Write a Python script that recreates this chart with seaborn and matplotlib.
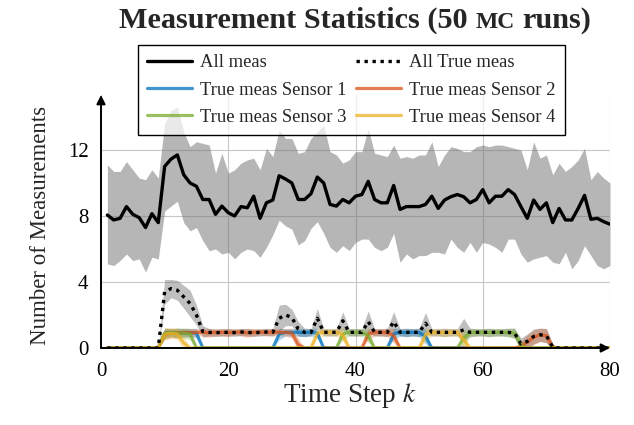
import numpy as np
import pandas as pd
import seaborn as sns
import matplotlib
matplotlib.use("Agg")
import matplotlib.pyplot as plt
from matplotlib.lines import Line2D

# ---------------- data (time steps 1..80) ----------------
steps = list(range(1, 81))

all_mean = [8.06, 7.76, 7.86, 8.57, 8.10, 7.90, 7.30, 8.14, 7.60, 11.0,
            11.45, 11.7, 10.5, 10.0, 9.80, 9.00, 9.00, 8.10, 8.60, 8.20,
            8.00, 8.57, 8.50, 9.20, 7.86, 8.80, 8.97, 10.44, 10.24, 10.0,
            9.00, 9.00, 9.35, 10.36, 10.0, 8.70, 8.60, 9.00, 8.80, 9.20,
            9.30, 10.1, 9.00, 8.80, 8.80, 9.85, 8.40, 8.57, 8.57, 8.57,
            8.70, 9.20, 8.46, 8.97, 9.17, 9.30, 9.17, 8.80, 9.00, 9.60,
            8.80, 9.20, 9.20, 9.60, 9.30, 8.57, 7.86, 8.97, 8.40, 8.80,
            7.60, 8.46, 7.76, 7.76, 8.46, 9.25, 7.80, 7.86, 7.66, 7.50]

all_upper = [11.1, 10.7, 10.7, 11.3, 10.8, 10.3, 10.2, 10.8, 10.3, 13.6,
             14.4, 14.6, 13.1, 12.2, 12.5, 12.4, 12.3, 10.6, 11.8, 10.6,
             10.8, 11.2, 11.4, 11.5, 10.8, 12.1, 11.6, 13.2, 12.7, 12.7,
             11.8, 11.9, 12.7, 13.1, 13.5, 11.9, 11.7, 11.2, 11.4, 11.9,
             11.9, 13.3, 11.8, 11.7, 11.6, 12.3, 11.5, 11.6, 11.5, 11.7,
             11.7, 12.5, 11.0, 11.7, 12.2, 12.1, 11.9, 11.9, 12.2, 12.3,
             12.2, 12.3, 12.3, 12.2, 12.1, 12.0, 10.8, 12.5, 11.5, 11.7,
             10.5, 11.2, 10.7, 11.0, 11.4, 12.1, 10.2, 10.7, 10.3, 10.0]

all_lower = [5.1, 5.0, 5.3, 5.7, 5.3, 5.4, 4.6, 5.5, 5.4, 8.3,
             8.6, 8.9, 7.6, 7.1, 7.3, 6.5, 5.9, 6.0, 5.7, 5.8,
             5.4, 5.8, 6.0, 5.9, 5.5, 6.1, 6.85, 7.75, 7.4, 7.2,
             6.25, 6.5, 7.25, 7.66, 6.95, 6.1, 5.8, 6.2, 5.9, 6.4,
             6.6, 6.6, 6.1, 5.9, 6.1, 6.95, 5.2, 5.7, 5.4, 5.6,
             5.6, 5.8, 5.8, 5.7, 6.6, 6.1, 5.8, 6.4, 5.8, 6.4,
             6.3, 6.1, 5.8, 6.6, 6.6, 5.7, 5.2, 5.4, 5.5, 5.6,
             5.2, 5.1, 5.8, 4.8, 5.3, 6.2, 5.6, 5.0, 4.8, 5.0]

true_mean = [0, 0, 0, 0, 0, 0, 0, 0, 0, 3.4,
             3.6, 3.5, 3.1, 2.7, 2.0, 1.0, 0.95, 0.92, 0.95, 0.95,
             0.93, 0.97, 0.95, 0.92, 0.95, 0.97, 0.95, 1.8, 2.0, 1.85,
             1.15, 0.95, 0.95, 1.8, 0.95, 0.95, 0.95, 1.65, 0.95, 0.95,
             0.95, 1.6, 0.95, 0.95, 0.95, 1.6, 0.95, 0.95, 0.95, 0.95,
             1.5, 0.95, 0.95, 0.95, 0.95, 0.95, 1.1, 0.95, 0.95, 0.95,
             0.95, 0.95, 0.95, 0.95, 0.9, 0.25, 0.4, 0.7, 0.8, 0.75,
             0.05, 0, 0, 0, 0, 0, 0, 0, 0, 0]

true_spread = [0, 0, 0, 0, 0, 0, 0, 0, 0, 0.75,
               0.55, 0.6, 0.7, 0.8, 0.6, 0.35, 0.22, 0.22, 0.22, 0.22,
               0.22, 0.22, 0.22, 0.22, 0.22, 0.22, 0.22, 0.8, 0.65, 0.5,
               0.45, 0.25, 0.22, 0.6, 0.22, 0.22, 0.22, 0.55, 0.22, 0.22,
               0.22, 0.65, 0.22, 0.22, 0.25, 0.6, 0.22, 0.25, 0.22, 0.25,
               0.65, 0.22, 0.22, 0.25, 0.22, 0.22, 0.7, 0.25, 0.22, 0.22,
               0.25, 0.22, 0.22, 0.25, 0.3, 0.35, 0.45, 0.45, 0.4, 0.43,
               0.2, 0, 0, 0, 0, 0, 0, 0, 0, 0]

s1_mean = [0, 0, 0, 0, 0, 0, 0, 0, 0, 0.9,
           0.95, 0.9, 0.92, 0.93, 0.9, 0, 0, 0, 0, 0,
           0, 0, 0, 0, 0, 0, 0, 0.85, 0.95, 0.95,
           0.95, 0.93, 0.95, 0.9, 0, 0, 0, 0, 0, 0,
           0, 0, 0, 0, 0, 0.85, 0.95, 0.93, 0.95, 0.93,
           0.7, 0, 0, 0, 0, 0, 0, 0, 0, 0,
           0, 0, 0, 0, 0, 0, 0, 0, 0, 0,
           0, 0, 0, 0, 0, 0, 0, 0, 0, 0]
s1_spread = [0, 0, 0, 0, 0, 0, 0, 0, 0, 0.3,
             0.22, 0.3, 0.27, 0.25, 0.3, 0, 0, 0, 0, 0,
             0, 0, 0, 0, 0, 0, 0, 0.35, 0.22, 0.22,
             0.22, 0.25, 0.22, 0.3, 0, 0, 0, 0, 0, 0,
             0, 0, 0, 0, 0, 0.35, 0.22, 0.25, 0.22, 0.25,
             0.45, 0, 0, 0, 0, 0, 0, 0, 0, 0,
             0, 0, 0, 0, 0, 0, 0, 0, 0, 0,
             0, 0, 0, 0, 0, 0, 0, 0, 0, 0]

s2_mean = [0, 0, 0, 0, 0, 0, 0, 0, 0, 0.85,
           0.9, 0.92, 0.95, 0.93, 0.95, 0.95, 0.92, 0.95, 0.95, 0.93,
           0.97, 0.95, 0.92, 0.95, 0.97, 0.95, 0.95, 0.95, 0.95, 0.9,
           0.2, 0, 0, 0, 0, 0, 0, 0, 0, 0,
           0, 0.85, 0.95, 0.95, 0.93, 0.75, 0, 0, 0, 0,
           0, 0, 0, 0, 0, 0, 0, 0, 0, 0,
           0, 0, 0, 0, 0, 0.1, 0.35, 0.65, 0.8, 0.75,
           0.05, 0, 0, 0, 0, 0, 0, 0, 0, 0]
s2_spread = [0, 0, 0, 0, 0, 0, 0, 0, 0, 0.35,
             0.3, 0.27, 0.22, 0.25, 0.22, 0.22, 0.27, 0.22, 0.22, 0.25,
             0.17, 0.22, 0.27, 0.22, 0.17, 0.22, 0.22, 0.22, 0.22, 0.3,
             0.4, 0, 0, 0, 0, 0, 0, 0, 0, 0,
             0, 0.35, 0.22, 0.22, 0.25, 0.43, 0, 0, 0, 0,
             0, 0, 0, 0, 0, 0, 0, 0, 0, 0,
             0, 0, 0, 0, 0, 0.3, 0.45, 0.45, 0.4, 0.43,
             0.2, 0, 0, 0, 0, 0, 0, 0, 0, 0]

s3_mean = [0, 0, 0, 0, 0, 0, 0, 0, 0, 0.9,
           0.93, 0.9, 0.9, 0.85, 0, 0, 0, 0, 0, 0,
           0, 0, 0, 0, 0, 0, 0, 0, 0, 0,
           0, 0, 0, 0, 0, 0, 0, 0.85, 0.95, 0.95,
           0.95, 0.75, 0, 0, 0, 0, 0, 0, 0, 0,
           0, 0, 0, 0, 0, 0, 0.6, 0.93, 0.95, 0.95,
           0.93, 0.95, 0.95, 0.93, 0.9, 0.15, 0, 0, 0, 0,
           0, 0, 0, 0, 0, 0, 0, 0, 0, 0]
s3_spread = [0, 0, 0, 0, 0, 0, 0, 0, 0, 0.3,
             0.25, 0.3, 0.3, 0.35, 0, 0, 0, 0, 0, 0,
             0, 0, 0, 0, 0, 0, 0, 0, 0, 0,
             0, 0, 0, 0, 0, 0, 0, 0.35, 0.22, 0.22,
             0.22, 0.43, 0, 0, 0, 0, 0, 0, 0, 0,
             0, 0, 0, 0, 0, 0, 0.49, 0.25, 0.22, 0.22,
             0.25, 0.22, 0.22, 0.25, 0.3, 0.35, 0, 0, 0, 0,
             0, 0, 0, 0, 0, 0, 0, 0, 0, 0]

s4_mean = [0, 0, 0, 0, 0, 0, 0, 0, 0, 0.85,
           0.9, 0.85, 0.3, 0, 0, 0, 0, 0, 0, 0,
           0, 0, 0, 0, 0, 0, 0, 0, 0, 0,
           0, 0, 0, 0.9, 0.95, 0.95, 0.95, 0.8, 0, 0,
           0, 0, 0, 0, 0, 0, 0, 0, 0, 0,
           0.8, 0.95, 0.95, 0.93, 0.95, 0.95, 0.5, 0, 0, 0,
           0, 0, 0, 0, 0, 0, 0, 0, 0, 0,
           0, 0, 0, 0, 0, 0, 0, 0, 0, 0]
s4_spread = [0, 0, 0, 0, 0, 0, 0, 0, 0, 0.35,
             0.3, 0.35, 0.45, 0, 0, 0, 0, 0, 0, 0,
             0, 0, 0, 0, 0, 0, 0, 0, 0, 0,
             0, 0, 0, 0.3, 0.22, 0.22, 0.22, 0.4, 0, 0,
             0, 0, 0, 0, 0, 0, 0, 0, 0, 0,
             0.4, 0.22, 0.22, 0.25, 0.22, 0.22, 0.5, 0, 0, 0,
             0, 0, 0, 0, 0, 0, 0, 0, 0, 0,
             0, 0, 0, 0, 0, 0, 0, 0, 0, 0]

sensor_names = ["True meas Sensor 1", "True meas Sensor 2",
                "True meas Sensor 3", "True meas Sensor 4"]
sensor_means = [s1_mean, s2_mean, s3_mean, s4_mean]
sensor_spreads = [s1_spread, s2_spread, s3_spread, s4_spread]
sensor_colors = [(0.0, 0.447, 0.741), (0.85, 0.325, 0.098),
                 (0.466, 0.674, 0.188), (0.929, 0.694, 0.125)]

x_ticks = [0, 20, 40, 60, 80]
y_ticks = [0, 4, 8, 12]

# ---------------- style ----------------
sns.set_theme(style="white")
plt.rcParams["font.family"] = ["Liberation Serif", "DejaVu Serif"]
plt.rcParams["mathtext.fontset"] = "stix"

W, H = 634, 425
fig = plt.figure(figsize=(W / 100, H / 100), dpi=100)
ax = fig.add_axes([101 / W, 77 / H, 509 / W, 253 / H])

steps_arr = np.array(steps)

# bands
ax.fill_between(steps_arr, all_lower, all_upper, color=(0.45, 0.45, 0.45),
                alpha=0.52, lw=0, zorder=2)
tm = np.array(true_mean)
ts = np.array(true_spread)
ax.fill_between(steps_arr, tm - ts, tm + ts, color=(0.45, 0.45, 0.45),
                alpha=0.45, lw=0, zorder=2)

# sensors
for name, m, sp, c in zip(sensor_names, sensor_means, sensor_spreads, sensor_colors):
    m = np.array(m)
    sp = np.array(sp)
    ax.fill_between(steps_arr, m - sp, m + sp, color=c, alpha=0.3, lw=0, zorder=3)
    df = pd.DataFrame({"step": steps, "val": m})
    sns.lineplot(data=df, x="step", y="val", ax=ax, color=c, alpha=0.75,
                 lw=2.3, zorder=4, legend=False)

# all true meas (dotted)
df_true = pd.DataFrame({"step": steps, "val": true_mean})
sns.lineplot(data=df_true, x="step", y="val", ax=ax, color="black", lw=2.4,
             linestyle=(0, (1, 1.4)), zorder=5, legend=False)

# all meas
df_all = pd.DataFrame({"step": steps, "val": all_mean})
sns.lineplot(data=df_all, x="step", y="val", ax=ax, color="black", lw=2.4,
             zorder=6, legend=False)

ax.set_xlim(0, 80)
ax.set_ylim(0, 253 / 16.5)
ax.set_xticks(x_ticks)
ax.set_yticks(y_ticks)
ax.set_xticklabels([str(t) for t in x_ticks], fontsize=15)
ax.set_yticklabels([str(t) for t in y_ticks], fontsize=15)
ax.set_xlabel("")
ax.set_ylabel("")
ax.grid(True, color=(0.78, 0.78, 0.78), lw=0.8, zorder=0)
ax.set_axisbelow(True)
ax.tick_params(axis="x", direction="out", length=3, width=0.8,
               color=(0.45, 0.45, 0.45), pad=7, labelcolor="black")
ax.tick_params(axis="y", direction="out", length=3, width=0.8,
               color=(0.45, 0.45, 0.45), pad=6, labelcolor="black")
for s in ax.spines.values():
    s.set_visible(False)

# axis arrows
arrow = dict(arrowstyle="-|>", lw=1.4, color="black", mutation_scale=13,
             shrinkA=0, shrinkB=0)
ax.annotate("", xy=(1.0, 0), xytext=(0, 0), xycoords="axes fraction",
            textcoords="axes fraction", arrowprops=arrow, annotation_clip=False,
            zorder=10)
ax.annotate("", xy=(0, 1.0), xytext=(0, 0), xycoords="axes fraction",
            textcoords="axes fraction", arrowprops=arrow, annotation_clip=False,
            zorder=10)

# labels
fig.text(350 / W, 1 - 395 / H, r"Time Step $k$", fontsize=19.5, ha="center",
         va="center")
fig.text(41 / W, 1 - 225 / H, "Number of Measurements", fontsize=16.5,
         ha="center", va="center", rotation=90)

# legend
handles = [
    Line2D([], [], color="black", lw=2.4),
    Line2D([], [], color=sensor_colors[0], lw=2.3, alpha=0.75),
    Line2D([], [], color=sensor_colors[2], lw=2.3, alpha=0.75),
    Line2D([], [], color="black", lw=2.4, linestyle=(0, (1, 1.4))),
    Line2D([], [], color=sensor_colors[1], lw=2.3, alpha=0.75),
    Line2D([], [], color=sensor_colors[3], lw=2.3, alpha=0.75),
]
labels = ["All meas", sensor_names[0], sensor_names[2],
          "All True meas", sensor_names[1], sensor_names[3]]
leg = fig.legend(handles, labels, ncol=2, loc="upper center",
                 bbox_to_anchor=(351.5 / W, 1 - 45 / H), fontsize=13.4,
                 frameon=True, fancybox=False, handlelength=2.4,
                 handletextpad=0.45, columnspacing=0.5, labelspacing=0.55,
                 borderpad=0.5, borderaxespad=0)
fr = leg.get_frame()
fr.set_alpha(None)
fr.set_facecolor((1, 1, 1, 0.7))
fr.set_edgecolor("black")
fr.set_linewidth(1.0)
leg.set_zorder(20)

# title with small caps "MC"
fig.canvas.draw()
r = fig.canvas.get_renderer()
ybase = 1 - 28 / H
tsz = 21.8
parts = [("Measurement Statistics (50", tsz), ("MC", tsz * 0.78), ("runs)", tsz)]
tobjs = [fig.text(0, ybase, p, fontsize=s, fontweight="bold", ha="left",
                  va="baseline") for p, s in parts]
widths = [t.get_window_extent(r).width for t in tobjs]
space = tsz * 100 / 72 * 0.25
total = sum(widths) + 2 * space
x = 355 - total / 2
for t, w in zip(tobjs, widths):
    t.set_x(x / W)
    x += w + space

fig.savefig("out.png", dpi=100)
